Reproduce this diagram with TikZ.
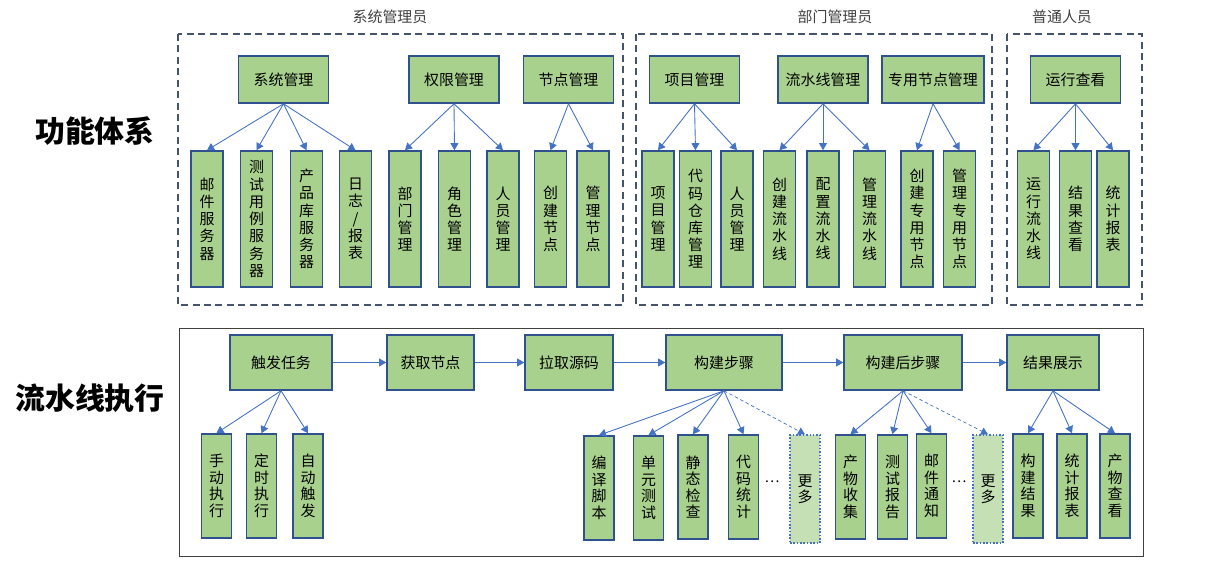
\documentclass[tikz,border=0pt]{standalone}
\usepackage{fontspec}
\setmainfont{Noto Sans CJK SC}
\usepackage{xcolor}
\usetikzlibrary{arrows.meta}
\definecolor{boxgreen}{HTML}{A9D18E}
\definecolor{palegreen}{HTML}{C5E0B4}
\definecolor{boxblue}{HTML}{2F528F}
\definecolor{arrowblue}{HTML}{4472C4}
\definecolor{framegray}{HTML}{44546A}
\definecolor{titlegray}{HTML}{404040}

\begin{document}
\begin{tikzpicture}[x=0.02cm,y=-0.02cm,
	head node/.style={draw=boxblue, line width=0.9pt, fill=boxgreen, minimum width=1.8cm, minimum height=0.94cm, inner sep=0pt, font=\fontsize{8.5}{10}\selectfont},
	leaf node/.style={draw=boxblue, line width=0.9pt, fill=boxgreen, minimum width=0.64cm, minimum height=2.72cm, inner sep=0pt, align=center, font=\fontsize{8.5}{9.8}\selectfont},
	step node/.style={head node, minimum height=1.1cm},
	sub node/.style={leaf node, minimum width=0.6cm, minimum height=2.08cm, font=\fontsize{8.5}{9.4}\selectfont},
	more node/.style={sub node, fill=palegreen, draw=arrowblue, densely dotted, line width=0.7pt, minimum height=2.16cm},
	link/.style={-{Triangle[width=4.5pt,length=4pt]}, color=arrowblue, line width=0.5pt},
	more link/.style={link, dash pattern=on 2pt off 1.5pt, line width=0.4pt},
	frame/.style={draw=framegray, line width=0.8pt, dash pattern=on 4pt off 2.5pt},
	title/.style={text=titlegray, font=\fontsize{8.5}{10}\selectfont},
	side title/.style={font=\fontsize{17}{20}\selectfont\bfseries}]
	\useasboundingbox (0,0) rectangle (1215,567);
	
	% Frames and titles
	\draw[frame] (178,34) rectangle (623,305);
	\draw[frame] (636,34) rectangle (992,305);
	\draw[frame] (1007,34) rectangle (1142,305);
	\draw[line width=0.5pt, black!75] (179,328) rectangle (1143,556);
	\node[title] (t1) at (390,17) {系统管理员};
	\node[title] (t2) at (835,17) {部门管理员};
	\node[title] (t3) at (1062,17) {普通人员};
	\node[side title] (gntx) at (95,131) {功能体系};
	\node[side title] (lsxzx) at (90,398) {流水线执行};
	
	% Nodes
	\node[head node] (xtgl) at (283.5,79.5) {系统管理};
	\node[head node] (qxgl) at (454,79.5) {权限管理};
	\node[head node] (jdgl) at (568.5,79.5) {节点管理};
	\node[head node] (xmgl) at (694.5,79.5) {项目管理};
	\node[head node] (lsxgl) at (823,79.5) {流水线管理};
	\node[head node, minimum width=2.04cm] (zyjdgl) at (933,79.5) {专用节点管理};
	\node[head node] (yxck) at (1075.5,79.5) {运行查看};
	
	\node[leaf node] (yjfwq) at (207,219) {邮\\件\\服\\务\\器};
	\node[leaf node] (csylfwq) at (256.5,219) {测\\试\\用\\例\\服\\务\\器};
	\node[leaf node] (cpkfwq) at (306.5,219) {产\\品\\库\\服\\务\\器};
	\node[leaf node] (rzbb) at (355.5,219) {日\\志\\/\\报\\表};
	\node[leaf node] (bmgl) at (405,219) {部\\门\\管\\理};
	\node[leaf node] (jsgl) at (454.5,219) {角\\色\\管\\理};
	\node[leaf node] (rygl) at (503,219) {人\\员\\管\\理};
	\node[leaf node] (cjjd) at (550.5,219) {创\\建\\节\\点};
	\node[leaf node] (gljd) at (593,219) {管\\理\\节\\点};
	\node[leaf node] (xmgl2) at (658,219) {项\\目\\管\\理};
	\node[leaf node] (dmckgl) at (695.5,219) {代\\码\\仓\\库\\管\\理};
	\node[leaf node] (rygl2) at (737,219) {人\\员\\管\\理};
	\node[leaf node] (cjlsx) at (779.5,219) {创\\建\\流\\水\\线};
	\node[leaf node] (pzlsx) at (823,219) {配\\置\\流\\水\\线};
	\node[leaf node] (gllsx) at (869.5,219) {管\\理\\流\\水\\线};
	\node[leaf node] (cjzyjd) at (917,219) {创\\建\\专\\用\\节\\点};
	\node[leaf node] (glzyjd) at (959.5,219) {管\\理\\专\\用\\节\\点};
	\node[leaf node] (yxlsx) at (1033.5,219) {运\\行\\流\\水\\线};
	\node[leaf node] (jgck) at (1075.5,219) {结\\果\\查\\看};
	\node[leaf node] (tjbb) at (1113,219) {统\\计\\报\\表};
	
	\path[link]
	(xtgl.south) edge (yjfwq.north) edge (csylfwq.north) edge (cpkfwq.north) edge (rzbb.north)
	(qxgl.south) edge (bmgl.north) edge (jsgl.north) edge (rygl.north)
	(jdgl.south) edge (cjjd.north) edge (gljd.north)
	(xmgl.south) edge (xmgl2.north) edge (dmckgl.north) edge (rygl2.north)
	(lsxgl.south) edge (cjlsx.north) edge (pzlsx.north) edge (gllsx.north)
	(zyjdgl.south) edge (cjzyjd.north) edge (glzyjd.north)
	(yxck.south) edge (yxlsx.north) edge (jgck.north) edge (tjbb.north);
	
	% Pipeline
	\node[step node, minimum width=2.04cm] (cfrw) at (281,362.5) {触发任务};
	\node[step node, minimum width=1.74cm] (hqjd) at (430.5,362.5) {获取节点};
	\node[step node, minimum width=1.76cm] (lqym) at (569,362.5) {拉取源码};
	\node[step node, minimum width=2.32cm] (gjbz) at (724,362.5) {构建步骤};
	\node[step node, minimum width=2.36cm] (gjhbz) at (903,362.5) {构建后步骤};
	\node[step node, minimum width=1.84cm] (jgzs) at (1053,362.5) {结果展示};
	
	\node[sub node] (sdzx) at (216.5,486) {手\\动\\执\\行};
	\node[sub node] (dszx) at (261.5,486) {定\\时\\执\\行};
	\node[sub node] (zdcf) at (308,486) {自\\动\\触\\发};
	\node[sub node] (byjb) at (599,488) {编\\译\\脚\\本};
	\node[sub node] (dycs) at (648.5,488) {单\\元\\测\\试};
	\node[sub node] (jtjc) at (693,487) {静\\态\\检\\查};
	\node[sub node] (dmtj) at (743.5,487) {代\\码\\统\\计};
	\node (dots1) at (772,482) {\fontsize{8}{9}\selectfont …};
	\node[more node] (gd1) at (805,489) {更\\多};
	\node[sub node] (cwsj) at (850.5,487) {产\\物\\收\\集};
	\node[sub node] (csbg) at (892.5,487) {测\\试\\报\\告};
	\node[sub node] (yjtz) at (931.5,486) {邮\\件\\通\\知};
	\node (dots2) at (959,482) {\fontsize{8}{9}\selectfont …};
	\node[more node] (gd2) at (988,489) {更\\多};
	\node[sub node] (gjjg) at (1028,486) {构\\建\\结\\果};
	\node[sub node] (tjbb2) at (1072,486) {统\\计\\报\\表};
	\node[sub node] (cwck) at (1115,486) {产\\物\\查\\看};
	
	\path[link]
	(cfrw) edge (hqjd) (hqjd) edge (lqym) (lqym) edge (gjbz)
	(gjbz) edge (gjhbz) (gjhbz) edge (jgzs)
	(cfrw.south) edge (sdzx.north) edge (dszx.north) edge (zdcf.north)
	(gjbz.south) edge (byjb.north) edge (dycs.north) edge (jtjc.north) edge (dmtj.north)
	edge[more link] (gd1.north)
	(gjhbz.south) edge (cwsj.north) edge (csbg.north) edge (yjtz.north)
	edge[more link] (gd2.north)
	(jgzs.south) edge (gjjg.north) edge (tjbb2.north) edge (cwck.north);
	
\end{tikzpicture}
\end{document}
